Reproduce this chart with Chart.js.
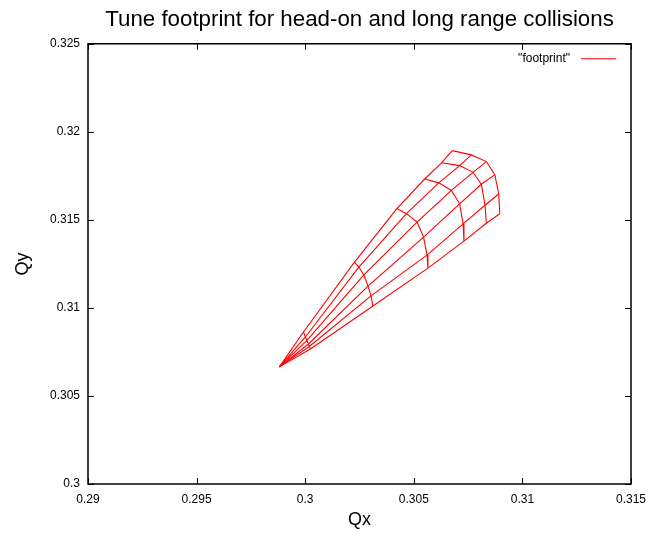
<!DOCTYPE html>
<html>
<head>
<meta charset="utf-8">
<script src="https://cdn.jsdelivr.net/npm/chart.js@4/dist/chart.umd.min.js"></script>
<style>
  body { margin: 0; background: #fff; }
  #wrap { width: 650px; height: 536px; }
</style>
</head>
<body>
<div id="wrap"><canvas id="chart"></canvas></div>
<script>
// footprint mesh: origin (zero amplitude) and six amplitude rings,
// each ring has one point per angle, from the Qy side to the Qx side
const originQx = 0.29881;
const originQy = 0.30665;
const ring1Qx = [0.29992, 0.30001, 0.30008, 0.30015, 0.30019, 0.30024];
const ring1Qy = [0.30863, 0.30835, 0.30815, 0.30795, 0.30781, 0.30767];
const ring2Qx = [0.30227, 0.30247, 0.30270, 0.30289, 0.30303, 0.30312];
const ring2Qy = [0.31260, 0.31232, 0.31187, 0.31124, 0.31068, 0.31011];
const ring3Qx = [0.30422, 0.30466, 0.30515, 0.30545, 0.30561, 0.30565];
const ring3Qy = [0.31564, 0.31535, 0.31487, 0.31402, 0.31300, 0.31226];
const ring4Qx = [0.30550, 0.30615, 0.30673, 0.30711, 0.30727, 0.30731];
const ring4Qy = [0.31732, 0.31710, 0.31667, 0.31591, 0.31477, 0.31379];
const ring5Qx = [0.30628, 0.30711, 0.30773, 0.30811, 0.30828, 0.30834];
const ring5Qy = [0.31824, 0.31808, 0.31770, 0.31702, 0.31583, 0.31481];
const ring6Qx = [0.30677, 0.30765, 0.30834, 0.30873, 0.30891, 0.30896];
const ring6Qy = [0.31893, 0.31869, 0.31831, 0.31757, 0.31647, 0.31535];

const xTicks = [0.29, 0.295, 0.3, 0.305, 0.31, 0.315];
const xTickLabels = ["0.29", "0.295", "0.3", "0.305", "0.31", "0.315"];
const yTicks = [0.3, 0.305, 0.31, 0.315, 0.32, 0.325];
const yTickLabels = ["0.3", "0.305", "0.31", "0.315", "0.32", "0.325"];

const ringsQx = [ring1Qx, ring2Qx, ring3Qx, ring4Qx, ring5Qx, ring6Qx];
const ringsQy = [ring1Qy, ring2Qy, ring3Qy, ring4Qy, ring5Qy, ring6Qy];

const RED = "rgb(255, 0, 0)";
const LEGEND_TEXT = '"footprint"';
const font = "'Liberation Sans', Arial, sans-serif";

function meshLine(points) {
  return {
    data: points,
    showLine: true,
    borderColor: RED,
    backgroundColor: RED,
    borderWidth: 1.1,
    pointRadius: 0,
    tension: 0
  };
}

const datasets = [];
// radial lines (constant angle)
for (let j = 0; j < ring1Qx.length; j++) {
  const pts = [{x: originQx, y: originQy}];
  for (let i = 0; i < ringsQx.length; i++) {
    pts.push({x: ringsQx[i][j], y: ringsQy[i][j]});
  }
  datasets.push(meshLine(pts));
}
// arcs (constant amplitude)
for (let i = 0; i < ringsQx.length; i++) {
  const pts = ringsQx[i].map((qx, j) => ({x: qx, y: ringsQy[i][j]}));
  datasets.push(meshLine(pts));
}

// gnuplot style frame with inward ticks on all four sides, plus the key
const frameTicks = {
  id: "frameTicks",
  afterDraw(chart) {
    const {ctx, chartArea: a, scales: {x, y}} = chart;
    const len = 6;
    ctx.save();
    ctx.strokeStyle = "#000";
    ctx.lineWidth = 1;
    ctx.beginPath();
    xTicks.forEach(v => {
      const px = Math.round(x.getPixelForValue(v)) + 0.5;
      ctx.moveTo(px, a.bottom); ctx.lineTo(px, a.bottom - len);
      ctx.moveTo(px, a.top); ctx.lineTo(px, a.top + len);
    });
    yTicks.forEach(v => {
      const py = Math.round(y.getPixelForValue(v)) + 0.5;
      ctx.moveTo(a.left, py); ctx.lineTo(a.left + len, py);
      ctx.moveTo(a.right, py); ctx.lineTo(a.right - len, py);
    });
    ctx.stroke();
    ctx.lineWidth = 1.5;
    ctx.strokeRect(a.left, a.top, a.right - a.left, a.bottom - a.top);

    // key, top right inside the frame
    const ky = a.top + 15;
    const lineEnd = a.right - 15;
    const lineStart = lineEnd - 35;
    ctx.strokeStyle = RED;
    ctx.lineWidth = 1.1;
    ctx.beginPath();
    ctx.moveTo(lineStart, ky);
    ctx.lineTo(lineEnd, ky);
    ctx.stroke();
    ctx.fillStyle = "#000";
    ctx.font = "12px " + font;
    ctx.textAlign = "right";
    ctx.textBaseline = "middle";
    ctx.fillText(LEGEND_TEXT, lineStart - 11, ky);
    ctx.restore();
  }
};

new Chart(document.getElementById("chart"), {
  type: "scatter",
  data: { datasets: datasets },
  plugins: [frameTicks],
  options: {
    responsive: true,
    maintainAspectRatio: false,
    animation: false,
    layout: { padding: { left: 0, right: 19, top: 0, bottom: 0 } },
    plugins: {
      title: {
        display: true,
        fullSize: false,
        text: "Tune footprint for head-on and long range collisions",
        color: "#000",
        font: { family: font, size: 22.3, weight: "normal" },
        padding: { top: 6, bottom: 11 }
      },
      legend: { display: false },
      tooltip: { enabled: false }
    },
    scales: {
      x: {
        type: "linear",
        min: 0.29,
        max: 0.315,
        grid: { display: false, drawTicks: false },
        border: { display: false },
        afterBuildTicks: scale => { scale.ticks = xTicks.map(v => ({value: v})); },
        afterFit: scale => {
          scale.height = 52;
          scale.paddingLeft = 0;
          scale.paddingRight = 0;
        },
        ticks: {
          autoSkip: false,
          maxRotation: 0,
          padding: 8,
          color: "#000",
          font: { family: font, size: 12 },
          callback: (value, index) => xTickLabels[index]
        },
        title: {
          display: true,
          text: "Qx",
          color: "#000",
          font: { family: font, size: 18 },
          padding: { top: 0, bottom: 5 }
        }
      },
      y: {
        type: "linear",
        min: 0.3,
        max: 0.325,
        grid: { display: false, drawTicks: false },
        border: { display: false },
        afterBuildTicks: scale => { scale.ticks = yTicks.map(v => ({value: v})); },
        afterFit: scale => {
          scale.width = 88;
          scale.paddingTop = 0;
          scale.paddingBottom = 0;
        },
        ticks: {
          autoSkip: false,
          padding: 8,
          color: "#000",
          font: { family: font, size: 12 },
          callback: (value, index) => yTickLabels[index]
        },
        title: {
          display: true,
          text: "Qy",
          color: "#000",
          font: { family: font, size: 18 },
          padding: { top: 12, bottom: 0 }
        }
      }
    }
  }
});
</script>
</body>
</html>
